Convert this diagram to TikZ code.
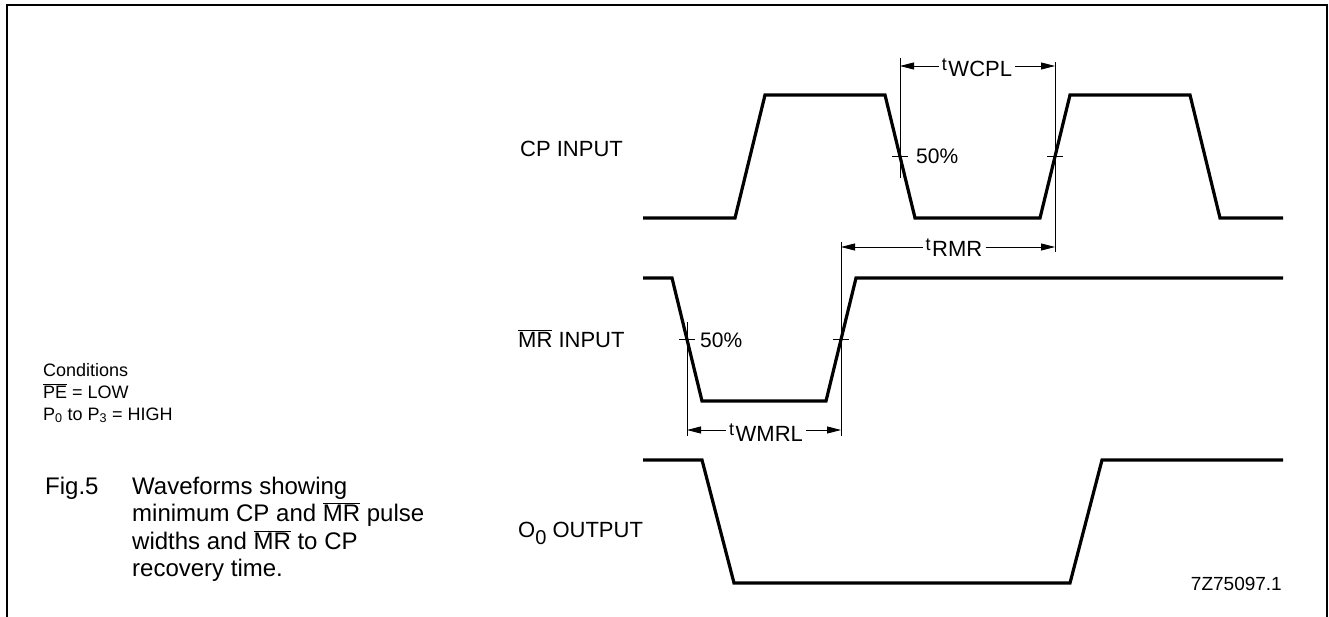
\documentclass[tikz,border=0pt]{standalone}
\usepackage{fontspec}
\setmainfont{Liberation Sans}
\usetikzlibrary{arrows.meta}
\usetikzlibrary{positioning}
\newcommand{\ovl}[1]{\ensuremath{\overline{\mbox{#1}}}}
\newcommand{\tpre}{\raisebox{6pt}{\fontsize{18}{18}\selectfont t}\hspace{1.5pt}}
\tikzstyle{wave}=[line width=3.2pt,line join=miter]
\tikzstyle{dim}=[draw,line width=0.8pt]
\tikzstyle{dimarr}=[dim,-{Triangle[length=14pt,width=7pt]}]
\tikzstyle{sig}=[anchor=base west,inner sep=0pt,font=\fontsize{22}{26}\selectfont]
\tikzstyle{pct}=[anchor=base west,inner sep=0pt,font=\fontsize{21}{24}\selectfont]
\tikzstyle{tlab}=[anchor=base,inner sep=3pt,font=\fontsize{22}{26}\selectfont]
\tikzstyle{cond}=[anchor=base west,inner sep=0pt,font=\fontsize{18}{22}\selectfont]
\tikzstyle{capt}=[anchor=base west,inner sep=0pt,font=\fontsize{24}{28}\selectfont]

\begin{document}
\begin{tikzpicture}[x=1pt,y=-1pt]
\useasboundingbox (0,0) rectangle (1329,617);
\draw[line width=1.8pt] (7,617) -- (7,5) -- (1327,5) -- (1327,617);

\begin{scope}
	\node[sig] (cpl) at (520,157) {CP INPUT};
	\node[sig] (mrl) at (518,347) {\ovl{MR} INPUT};
	\node[sig] (ool) at (518,537) {O\raisebox{-7pt}{\fontsize{20}{20}\selectfont 0} OUTPUT};

	\draw[wave] (643,218) -- (735,218) -- (765,95) -- (885,95) -- (915,218)
		-- (1040,218) -- (1070,95) -- (1190,95) -- (1220,218) -- (1283,218);
	\draw[wave] (643,278) -- (672,278) -- (702,401) -- (826,401) -- (856,278)
		-- (1283,278);
	\draw[wave] (643,460) -- (702,460) -- (734,583) -- (1070,583) -- (1102,460)
		-- (1283,460);

	\node[anchor=base east,inner sep=0pt,font=\fontsize{19}{22}\selectfont] (code) at (1282,590) {7Z75097.1};
\end{scope}

\begin{scope}
	\coordinate (cpf) at (900,156.5);
	\coordinate (cpr) at (1055,156.5);
	\coordinate (mrf) at (687,339.5);
	\coordinate (mrr) at (841,339.5);

	\path[dim] (900,58) -- (900,178);
	\path[dim] (1055,62) -- (1055,252);
	\path[dim] (687,322) -- (687,436);
	\path[dim] (841,242) -- (841,436);

	\path[dim] ([xshift=-8pt]cpf) -- ([xshift=8pt]cpf);
	\path[dim] ([xshift=-8pt]cpr) -- ([xshift=8pt]cpr);
	\path[dim] ([xshift=-8pt]mrf) -- ([xshift=8pt]mrf);
	\path[dim] ([xshift=-8pt]mrr) -- ([xshift=8pt]mrr);

	\node[pct] (p1) at (916,164) {50\%};
	\node[pct] (p2) at (700,347) {50\%};

	\node[tlab] (wcpl) at (977,77) {\tpre WCPL};
	\node[tlab] (rmr) at (954,257) {\tpre RMR};
	\node[tlab] (wmrl) at (766,441) {\tpre WMRL};

	\path[dimarr] (wcpl.west |- 0,66) -- (900,66);
	\path[dimarr] (wcpl.east |- 0,66) -- (1055,66);
	\path[dimarr] (rmr.west |- 0,247) -- (841,247);
	\path[dimarr] (rmr.east |- 0,247) -- (1055,247);
	\path[dimarr] (wmrl.west |- 0,430) -- (687,430);
	\path[dimarr] (wmrl.east |- 0,430) -- (841,430);
\end{scope}

\node[cond] (c1) at (43,376) {Conditions};
\node[cond] (c2) at (43,398) {\ovl{PE} = LOW};
\node[cond] (c3) at (43,420) {P\textsubscript{0} to P\textsubscript{3} = HIGH};

\node[capt] (fig) at (45,494) {Fig.5};
\node[capt] (l1) at (132,494) {Waveforms showing};
\node[capt] (l2) at (132,521) {minimum CP and \ovl{MR} pulse};
\node[capt] (l3) at (132,549) {widths and \ovl{MR} to CP};
\node[capt] (l4) at (132,576) {recovery time.};
\end{tikzpicture}
\end{document}
